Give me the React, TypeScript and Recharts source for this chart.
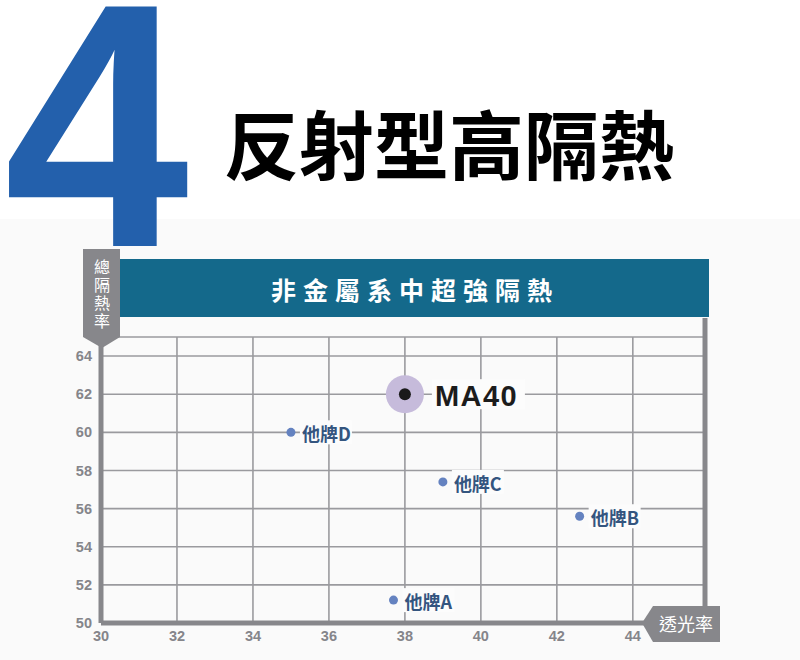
import React from 'react';
import { ScatterChart, Scatter, XAxis, YAxis, CartesianGrid, ReferenceLine } from 'recharts';

const brandNames = ['他牌A', '他牌B', '他牌C', '他牌D'];
const brandTransmittance = [37.7, 42.6, 39.0, 35.0];
const brandInsulation = [51.2, 55.6, 57.4, 60.0];

const ourNames = ['MA40'];
const ourTransmittance = [38.0];
const ourInsulation = [62.0];

const xTicks = [30, 32, 34, 36, 38, 40, 42, 44];
const yTicks = [50, 52, 54, 56, 58, 60, 62, 64];
const xDomain: [number, number] = [30, 45.9];
const yDomain: [number, number] = [50, 65];
const frameTop = 66;

const bigNumber = '4';
const titleText = '反射型高隔熱';
const bannerText = '非金屬系中超強隔熱';
const yLabelText = '總隔熱率';
const xLabelText = '透光率';

const brandData = brandNames.map((name, i) => ({ name, x: brandTransmittance[i], y: brandInsulation[i] }));
const ourData = ourNames.map((name, i) => ({ name, x: ourTransmittance[i], y: ourInsulation[i] }));

const CJK = "'Noto Sans CJK TC', 'Noto Sans CJK SC', sans-serif";
const LATIN = "'Liberation Sans', Arial, sans-serif";
const GRAY = '#87878b';

const BrandShape = (props: any) => {
  const { cx, cy, payload } = props;
  return (
    <g>
      <rect x={cx + 9} y={cy - 12} width={52} height={24} fill="#fcfcfc" />
      <circle cx={cx} cy={cy} r={4.5} fill="#6482c0" />
      <text x={cx + 11} y={cy + 1} dominantBaseline="central" fontSize={18} fontWeight={700} fill="#34557f" fontFamily={CJK}>
        {payload.name}
      </text>
    </g>
  );
};

const OurShape = (props: any) => {
  const { cx, cy, payload } = props;
  return (
    <g>
      <rect x={cx + 27} y={cy - 15} width={93} height={30} fill="#fcfcfc" />
      <circle cx={cx} cy={cy} r={19} fill="#c6bbdb" />
      <circle cx={cx} cy={cy} r={6} fill="#1a1a1a" />
      <text x={cx + 30} y={cy + 12} fontSize={29} fontWeight={700} letterSpacing={1.5} fill="#1c1c1c" fontFamily={LATIN}>
        {payload.name}
      </text>
    </g>
  );
};

const tickStyle = { fontSize: 14.5, fontWeight: 700, fill: '#85858a', fontFamily: LATIN };

export default function App() {
  return (
    <div style={{ position: 'absolute', left: 0, top: 0, width: 800, height: 660, background: '#ffffff', overflow: 'hidden' }}>
      <div style={{ position: 'absolute', left: 0, top: 219, width: 800, height: 441, background: '#fafafa' }} />
      <svg width={800} height={660} style={{ position: 'absolute', left: 0, top: 0 }}>
        <text x={4} y={246} fontSize={348} fontWeight={700} fill="#2360ac" fontFamily={LATIN} textLength={185} lengthAdjust="spacingAndGlyphs">{bigNumber}</text>
        <text x={224} y={174} fontSize={75} fontWeight={700} fill="#000000" fontFamily={CJK}>{titleText}</text>
        <rect x={118} y={259} width={591} height={58} fill="#14698b" />
        <text x={415} y={289} textAnchor="middle" dominantBaseline="central" fontSize={25} fontWeight={700} letterSpacing={7} fill="#ffffff" fontFamily={CJK}>{bannerText}</text>
      </svg>
      <div style={{ position: 'absolute', left: 0, top: 0 }}>
        <ScatterChart width={800} height={660} margin={{ top: 337, right: 95, bottom: 7, left: 41 }}>
          <CartesianGrid stroke="#9a9a9e" strokeWidth={1.6} />
          <XAxis
            type="number"
            dataKey="x"
            domain={xDomain}
            ticks={xTicks}
            allowDataOverflow
            height={30}
            tickLine={false}
            tickSize={0}
            tickMargin={8}
            axisLine={{ stroke: GRAY, strokeWidth: 5 }}
            tick={tickStyle}
          />
          <YAxis
            type="number"
            dataKey="y"
            domain={yDomain}
            ticks={yTicks}
            allowDataOverflow
            width={60}
            tickLine={false}
            tickSize={0}
            tickMargin={9}
            axisLine={{ stroke: GRAY, strokeWidth: 5 }}
            tick={tickStyle}
          />
          <ReferenceLine
            segment={[{ x: xDomain[1], y: frameTop }, { x: xDomain[1], y: yDomain[0] }]}
            stroke={GRAY}
            strokeWidth={5}
            ifOverflow="visible"
          />
          <Scatter data={brandData} shape={BrandShape} isAnimationActive={false} />
          <Scatter data={ourData} shape={OurShape} isAnimationActive={false} />
        </ScatterChart>
      </div>
      <svg width={800} height={660} style={{ position: 'absolute', left: 0, top: 0, pointerEvents: 'none' }}>
        <polygon points="83,249 120,249 120,337 102,348 83,337" fill={GRAY} />
        <text x={102} y={259} fontSize={16} letterSpacing={2} fill="#ffffff" fontFamily={CJK} style={{ writingMode: 'vertical-rl' as any }}>{yLabelText}</text>
        <polygon points="642,623 653,606 720,606 720,642 653,642" fill={GRAY} />
        <text x={686} y={623} textAnchor="middle" dominantBaseline="central" fontSize={18} fill="#ffffff" fontFamily={CJK}>{xLabelText}</text>
      </svg>
    </div>
  );
}
